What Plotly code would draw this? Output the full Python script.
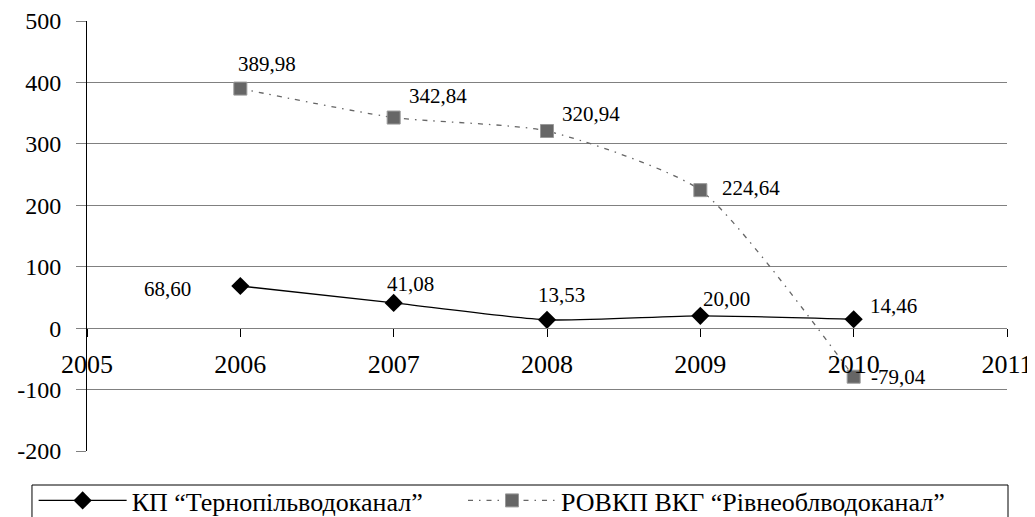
import plotly.graph_objects as go

years = [2006, 2007, 2008, 2009, 2010]
ternopil = [68.60, 41.08, 13.53, 20.00, 14.46]
rivne = [389.98, 342.84, 320.94, 224.64, -79.04]
name1 = "КП “Тернопільводоканал”"
name2 = "РОВКП ВКГ “Рівнеоблводоканал”"
x_ticks = [2005, 2006, 2007, 2008, 2009, 2010, 2011]
y_ticks = [-200, -100, 0, 100, 200, 300, 400, 500]

# label offsets (px) relative to points
off1 = [(-73, -3), (17, 19), (14, 25), (26, 17), (40, 13)]
off2 = [(27, 25), (44, 22), (44, 17), (51, 2), (45, 0)]

FONT = "Liberation Serif"
fig = go.Figure()
fig.add_trace(go.Scatter(
    x=years, y=ternopil, name=name1, mode="lines+markers",
    line=dict(color="black", width=1.3, shape="spline", smoothing=0.6),
    marker=dict(symbol="diamond", size=14, color="black"),
    legend="legend",
))
fig.add_trace(go.Scatter(
    x=years, y=rivne, name=name2, mode="lines+markers",
    line=dict(color="#666666", width=1.3, shape="spline", smoothing=0.6,
              dash="5px,6px,1.5px,6px"),
    marker=dict(symbol="square", size=13, color="#666666",
                line=dict(color="#999999", width=1)),
    legend="legend2",
))

def fmt(v):
    return f"{v:.2f}".replace(".", ",")

for xs, ys, offs in [(years, ternopil, off1), (years, rivne, off2)]:
    for xv, yv, (dx, dy) in zip(xs, ys, offs):
        fig.add_annotation(x=xv, y=yv, text=fmt(yv), showarrow=False,
                           xshift=dx, yshift=dy,
                           font=dict(family=FONT, size=21, color="black"))

ymin, ymax = y_ticks[0], y_ticks[-1]
leg_common = dict(orientation="h", yanchor="top", y=-0.0605, xanchor="left",
                  borderwidth=0, bgcolor="rgba(0,0,0,0)",
                  font=dict(family=FONT, size=26))
fig.update_layout(
    width=1027, height=509,
    margin=dict(l=79, r=28, t=13, b=66, autoexpand=False),
    paper_bgcolor="white", plot_bgcolor="white",
    font=dict(family=FONT, size=21, color="black"),
    showlegend=True,
    legend=dict(leg_common, x=-0.058, itemwidth=88),
    legend2=dict(leg_common, x=0.4087, itemwidth=88),
    shapes=[dict(type="rect", xref="paper", yref="paper",
                 x0=-0.0598, x1=1.0011, y0=-0.0791, y1=-0.2,
                 line=dict(color="black", width=1), fillcolor="rgba(0,0,0,0)",
                 layer="below")],
    xaxis=dict(range=[x_ticks[0], x_ticks[-1]], tickvals=x_ticks,
               ticktext=[str(v) for v in x_ticks],
               showgrid=False, zeroline=False, showline=True,
               linecolor="#808080", linewidth=1,
               anchor="free", position=(0 - ymin) / (ymax - ymin),
               ticks="outside", ticklen=8, tickcolor="black",
               ticklabelstandoff=5,
               tickfont=dict(family=FONT, size=26)),
    yaxis=dict(range=[ymin, ymax], tickvals=y_ticks,
               ticktext=[str(v) for v in y_ticks],
               showgrid=True, gridcolor="#808080", gridwidth=1,
               zeroline=False, showline=True, linecolor="black", linewidth=1,
               ticks="outside", ticklen=10, tickcolor="#808080",
               ticklabelstandoff=10,
               tickfont=dict(family=FONT, size=24)),
)
fig.write_html("out.html")
